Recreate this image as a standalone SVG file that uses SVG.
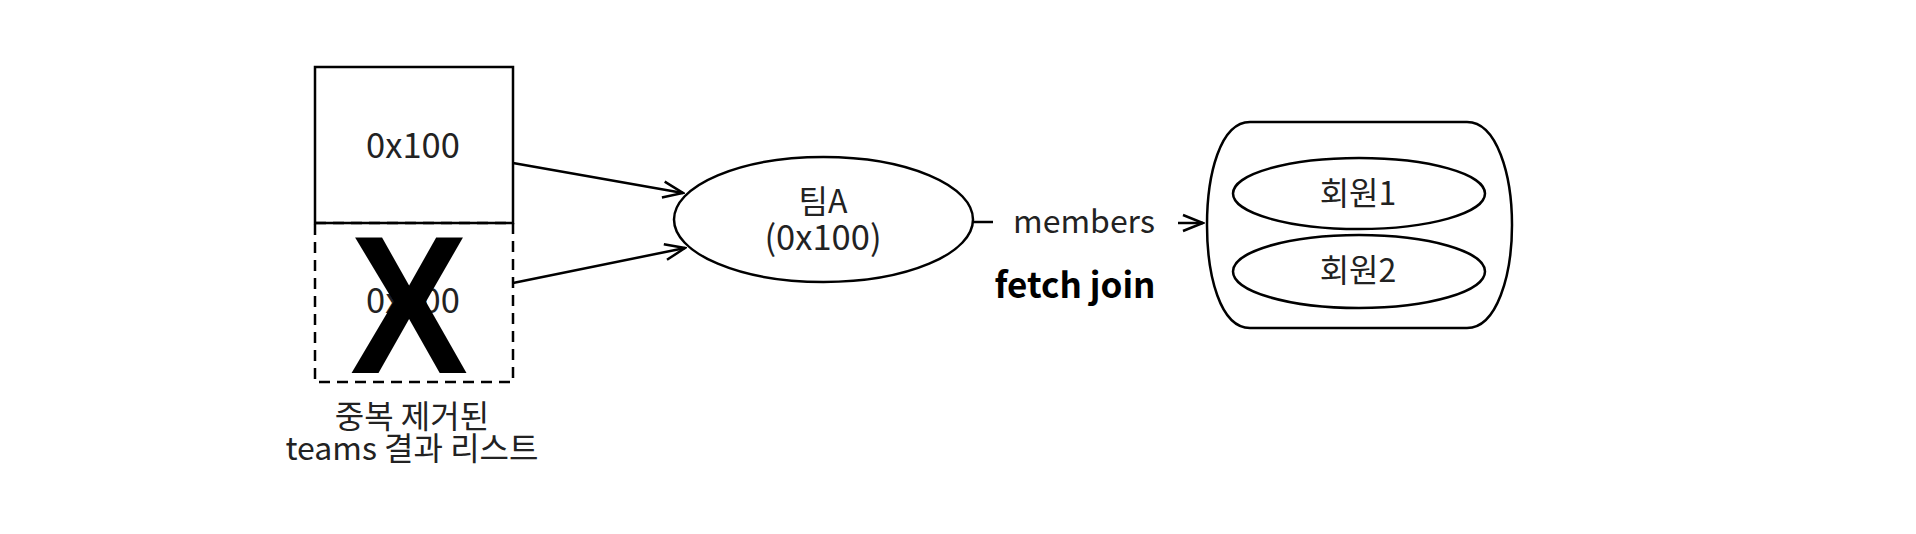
<svg xmlns="http://www.w3.org/2000/svg" width="1916" height="534" viewBox="0 0 1916 534">
<style>
.s{fill:none;stroke:#000;stroke-width:2.5}
.t{font-family:"Noto Sans CJK KR","Noto Sans",sans-serif;font-size:32px;fill:#222;text-anchor:middle}
.h{font-size:34.5px}
.b{font-family:"Noto Sans CJK KR","Noto Sans",sans-serif;font-size:35px;font-weight:bold;fill:#000;text-anchor:middle}
</style>
<defs>
<marker id="a" viewBox="0 0 24 20" refX="22" refY="10" markerWidth="24" markerHeight="20" markerUnits="userSpaceOnUse" orient="auto">
<path d="M2,2 L22,10 L2,18" fill="none" stroke="#000" stroke-width="2.5"/>
</marker>
</defs>
<rect width="1916" height="534" fill="#fff"/>
<g id="box1">
<rect class="s" x="315" y="67" width="198" height="156"/>
<text class="t h" x="413" y="158">0x100</text>
</g>
<g id="box2">
<rect class="s" x="315" y="223" width="198" height="159" stroke-dasharray="11,7"/>
<text class="t h" x="413" y="313">0x100</text>
<text x="409" y="373" font-family="Liberation Sans,Arial,sans-serif" font-weight="bold" font-size="197" text-anchor="middle" textLength="118" lengthAdjust="spacingAndGlyphs" fill="#000">X</text>
</g>
<g id="label">
<text class="t" x="412" y="428" font-size="31.5">중복 제거된</text>
<text class="t" x="412" y="460" font-size="31.5">teams 결과 리스트</text>
</g>
<g id="teamA">
<ellipse class="s" cx="823.5" cy="219.5" rx="149.5" ry="62.5"/>
<text class="t" x="823" y="213">팀A</text>
<text class="t h" x="823" y="250">(0x100)</text>
</g>
<g id="members">
<path class="s" d="M1250,122 H1467 C1497,122 1512,175 1512,225 C1512,275 1497,328 1467,328 H1250 C1220,328 1207,275 1207,225 C1207,175 1220,122 1250,122 Z"/>
<ellipse class="s" cx="1359" cy="193.5" rx="126" ry="35.5"/>
<text class="t" x="1358" y="205">회원1</text>
<ellipse class="s" cx="1359" cy="271.5" rx="126" ry="36.5"/>
<text class="t" x="1358" y="282">회원2</text>
</g>
<g id="connectors">
<line class="s" x1="513" y1="163" x2="683" y2="193" marker-end="url(#a)"/>
<line class="s" x1="513" y1="283" x2="685" y2="248" marker-end="url(#a)"/>
<line class="s" x1="973" y1="222" x2="993" y2="222"/>
<line class="s" x1="1178" y1="223" x2="1203" y2="223" marker-end="url(#a)"/>
<text class="t" x="1084" y="233" font-size="33">members</text>
<text class="b" x="1075" y="298">fetch join</text>
</g>
</svg>
